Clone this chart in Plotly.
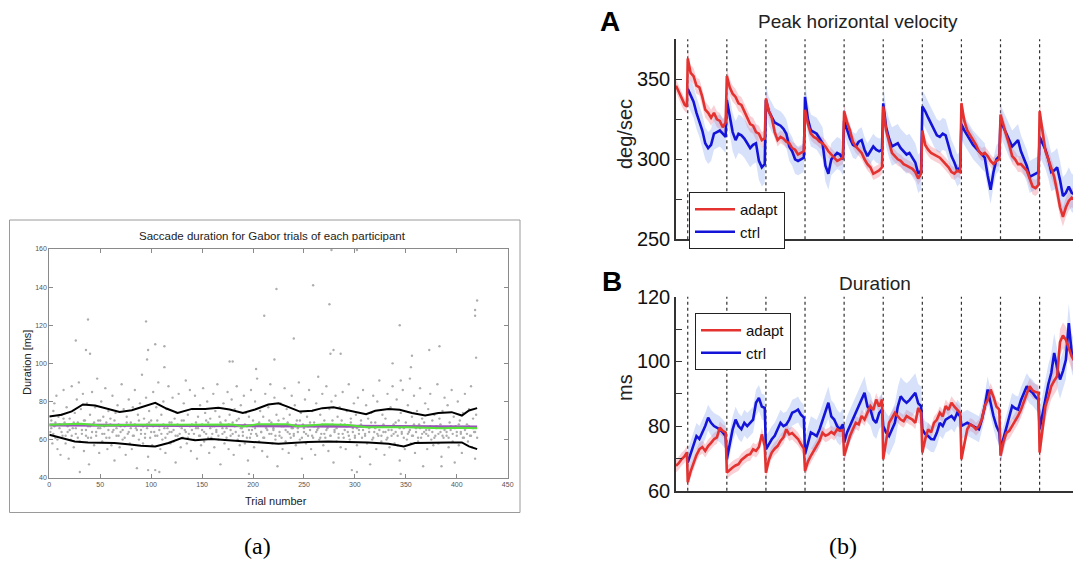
import plotly.graph_objects as go

# ---------------- (a) Saccade duration for Gabor trials ----------------
gabor_dots = [
    (1,64),(2,70),(3,58),(4,75),(5,67),(6,61),(7,83),(8,55),(9,72),(5,79),
    (10,66),(11,52),(12,73),(13,62),(14,86),(15,69),(16,58),(17,77),(18,64),(19,50),
    (20,71),(21,60),(22,88),(23,66),(24,56),(25,74),(26,63),(27,81),(28,69),(29,90),
    (30,59),(31,76),(32,65),(33,84),(34,54),(35,70),(36,62),(37,79),(38,67),(39,47),
    (40,73),(41,61),(42,85),(43,68),(44,57),(45,77),(46,64),(47,92),(48,70),(49,53),
    (50,66),(51,80),(52,59),(53,72),(54,63),(55,87),(56,69),(57,55),(58,75),(59,61),
    (60,71),(61,57),(62,83),(63,65),(64,49),(65,74),(66,62),(67,78),(68,68),(69,56),
    (70,64),(71,89),(72,60),(73,76),(74,67),(75,52),(76,72),(77,63),(78,81),(79,58),
    (80,69),(81,55),(82,77),(83,62),(84,86),(85,66),(86,45),(87,73),(88,60),(89,79),
    (90,65),(91,94),(92,58),(93,71),(94,63),(95,82),(96,68),(97,51),(98,75),(99,61),
    (100,70),(101,57),(102,85),(103,64),(104,44),(105,77),(106,62),(107,90),(108,67),(109,55),
    (110,73),(111,60),(112,80),(113,66),(114,53),(115,76),(116,63),(117,88),(118,69),(119,58),
    (120,64),(121,82),(122,59),(123,71),(124,48),(125,74),(126,62),(127,84),(128,67),(129,56),
    (130,70),(131,61),(132,79),(133,65),(134,91),(135,58),(136,73),(137,63),(138,86),(139,54),
    (140,68),(141,76),(142,60),(143,83),(144,66),(145,50),(146,72),(147,62),(148,78),(149,57),
    (150,65),(151,87),(152,59),(153,74),(154,63),(155,80),(156,69),(157,53),(158,71),(159,61),
    (160,67),(161,84),(162,56),(163,75),(164,64),(165,89),(166,60),(167,72),(168,47),(169,68),
    (170,63),(171,79),(172,58),(173,70),(174,66),(175,85),(176,55),(177,73),(178,62),(179,81),
    (180,69),(181,52),(182,76),(183,64),(184,88),(185,60),(186,71),(187,57),(188,78),(189,66),
    (190,62),(191,83),(192,58),(193,74),(194,67),(195,49),(196,72),(197,61),(198,86),(199,65),
    (200,70),(201,56),(202,80),(203,63),(204,92),(205,68),(206,59),(207,75),(208,64),(209,54),
    (210,72),(211,61),(212,84),(213,66),(214,51),(215,77),(216,63),(217,89),(218,69),(219,58),
    (220,65),(221,82),(222,60),(223,73),(224,46),(225,70),(226,62),(227,79),(228,67),(229,55),
    (230,71),(231,87),(232,59),(233,76),(234,64),(235,53),(236,73),(237,61),(238,83),(239,66),
    (240,63),(241,78),(242,57),(243,70),(244,66),(245,90),(246,60),(247,74),(248,50),(249,68),
    (250,64),(251,81),(252,58),(253,72),(254,62),(255,86),(256,69),(257,55),(258,75),(259,61),
    (260,67),(261,52),(262,79),(263,65),(264,93),(265,60),(266,73),(267,63),(268,84),(269,57),
    (270,70),(271,61),(272,88),(273,66),(274,54),(275,76),(276,62),(277,80),(278,68),(279,48),
    (280,65),(281,83),(282,59),(283,72),(284,63),(285,77),(286,56),(287,70),(288,85),(289,61),
    (290,68),(291,55),(292,75),(293,64),(294,89),(295,60),(296,71),(297,44),(298,66),(299,79),
    (300,62),(301,73),(302,57),(303,82),(304,65),(305,51),(306,70),(307,61),(308,86),(309,67),
    (310,63),(311,78),(312,58),(313,71),(314,66),(315,47),(316,74),(317,60),(318,83),(319,64),
    (320,69),(321,55),(322,80),(323,62),(324,91),(325,67),(326,59),(327,73),(328,64),(329,52),
    (330,71),(331,60),(332,84),(333,65),(334,56),(335,77),(336,62),(337,88),(338,68),(339,58),
    (340,64),(341,81),(342,57),(343,70),(344,49),(345,74),(346,63),(347,86),(348,66),(349,55),
    (350,69),(351,60),(352,78),(353,64),(354,92),(355,58),(356,72),(357,62),(358,83),(359,53),
    (360,66),(361,75),(362,59),(363,68),(364,87),(365,61),(366,71),(367,46),(368,64),(369,79),
    (370,63),(371,55),(372,76),(373,65),(374,84),(375,60),(376,70),(377,57),(378,73),(379,62),
    (380,67),(381,89),(382,58),(383,71),(384,64),(385,51),(386,75),(387,61),(388,82),(389,66),
    (390,62),(391,78),(392,56),(393,69),(394,65),(395,86),(396,59),(397,72),(398,48),(399,67),
    (400,64),(401,80),(402,57),(403,70),(404,63),(405,53),(406,74),(407,61),(408,84),(409,66),
    (410,68),(411,59),(412,76),(413,62),(414,88),(415,56),(416,71),(417,64),(418,50),(419,73),
]
gabor_core = [
    (2,66),(4,63),(6,69),(8,60),(10,68),(12,64),(14,71),(16,62),(18,67),(20,65),(22,62),(24,69),
    (26,66),(28,61),(30,68),(32,63),(34,70),(36,65),(38,61),(40,67),(42,64),(44,69),(46,62),(48,66),
    (50,70),(52,63),(54,67),(56,61),(58,65),(60,68),(62,64),(64,70),(66,66),(68,62),(70,67),(72,65),
    (74,61),(76,69),(78,64),(80,66),(82,62),(84,68),(86,65),(88,70),(90,63),(92,67),(94,61),(96,66),
    (98,69),(100,64),(102,67),(104,62),(106,70),(108,65),(110,63),(112,68),(114,61),(116,66),(118,64),
    (120,69),(122,65),(124,62),(126,68),(128,63),(130,66),(132,70),(134,64),(136,61),(138,67),(140,65),
    (142,63),(144,69),(146,66),(148,62),(150,68),(152,64),(154,70),(156,61),(158,66),(160,63),(162,67),
    (164,65),(166,62),(168,69),(170,66),(172,64),(174,61),(176,68),(178,65),(180,63),(182,67),(184,70),
    (186,62),(188,66),(190,64),(192,68),(194,61),(196,65),(198,63),(200,67),(202,66),(204,62),(206,69),
    (208,64),(210,61),(212,67),(214,65),(216,70),(218,63),(220,66),(222,62),(224,68),(226,64),(228,61),
    (230,67),(232,65),(234,69),(236,63),(238,66),(240,62),(242,68),(244,64),(246,70),(248,61),(250,66),
    (252,63),(254,67),(256,65),(258,62),(260,69),(262,64),(264,66),(266,61),(268,68),(270,63),(272,65),
    (274,67),(276,62),(278,70),(280,64),(282,66),(284,61),(286,68),(288,63),(290,65),(292,67),(294,62),
    (296,69),(298,64),(300,61),(302,66),(304,63),(306,68),(308,65),(310,62),(312,67),(314,64),(316,69),
    (318,61),(320,66),(322,63),(324,65),(326,62),(328,68),(330,64),(332,61),(334,67),(336,65),(338,63),
    (340,69),(342,62),(344,66),(346,64),(348,61),(350,67),(352,63),(354,65),(356,62),(358,68),(360,64),
    (362,61),(364,66),(366,63),(368,69),(370,65),(372,62),(374,67),(376,64),(378,61),(380,66),(382,63),
    (384,68),(386,62),(388,65),(390,64),(392,61),(394,67),(396,63),(398,66),(400,62),(402,68),(404,64),
    (406,61),(408,65),(410,63),(412,67),(414,62),(416,66),(418,64),(420,61),
]
gabor_outliers = [
    (26,112),(36,107),(38,123),(40,105),(95,122),(96,102),(97,107),(104,110),(113,109),(113,98),
    (177,101),(180,101),(203,97),(211,125),(221,102),(223,139),(240,113),(259,141),(275,131),
    (276,105),(277,159.5),(279,107),(286,105),(302,159.5),(337,100),(344,120),(345,91),(355,98),
    (356,104),(373,107),(383,109),(418,128),(418,125),(419,103),(420,133),
    (30,43),(97,44),(108,43),(196,42),(302,43),(345,42),(385,46),
]
upper_trial = [0,12,22,33,45,58,69,81,94,104,115,126,140,153,166,177,190,202,215,225,235,246,258,268,279,290,300,311,320,333,344,356,369,382,395,405,412,420]
upper_ms = [72.1,73.0,74.8,78.4,77.9,76.1,74.5,75.4,77.5,79.3,76.3,74.0,76.1,76.1,76.7,75.8,74.0,75.8,78.4,79.0,77.0,74.7,75.1,76.5,77.0,75.6,74.7,73.3,75.1,76.0,75.6,73.9,72.6,73.9,74.4,72.6,75.3,76.5]
lower_trial = [0,12,25,38,51,64,77,90,104,117,130,143,159,172,189,202,215,225,235,254,274,294,313,333,348,359,376,392,405,412,420]
lower_ms = [62.5,60.8,59.0,58.5,58.5,58.2,57.6,56.8,56.4,58.2,60.8,59.6,60.3,59.9,59.0,58.7,58.2,57.8,58.2,58.7,59.0,58.7,58.5,57.8,56.4,58.2,58.5,58.5,58.5,56.4,55.0]
green_trial = [0,31,51,84,117,150,180,190,204,234,244,271,294,311,352,385,402,420]
green_ms = [67.8,68.3,67.4,67.8,67.8,67.9,67.9,66.9,68.0,68.0,67.0,68.0,67.6,66.5,66.5,65.9,66.2,65.9]
purple_trial = [0,100,200,300,420]
purple_ms = [67.7,67.6,67.3,67.0,66.6]

# ---------------- (b) adapt / ctrl block data ----------------
# first adapt list is the pre-adaptation baseline segment
vel_adapt = [
    [346,343,339,336,334,333],
    [363,354,352,346,345,339,331,329,326,329,325,324,320,323],
    [352,345,341,339,335,334,330,325,322,321,317,316,312,313],
    [338,330,326,317,312,314,313,311,310,307,306,303,304,305],
    [331,322,316,314,313,311,310,308,305,303,301,299,300,301],
    [330,323,318,311,308,306,304,300,297,295,291,292,293,295],
    [333,318,310,304,302,300,299,297,296,295,294,292,288,291],
    [318,309,306,304,303,302,301,299,297,295,292,291,293,292],
    [335,324,318,315,312,309,305,303,304,302,299,297,299,300],
    [328,321,315,309,302,300,297,297,295,293,288,283,282,284],
    [330,318,305,300,294,289,280,270,264,270,274,276,275,272],
]
vel_ctrl = [
    [344,340,336,329,324,318,310,307,309,316,317,318,316,314],
    [337,328,317,312,316,315,313,310,307,309,310,299,295,297],
    [337,330,326,323,322,321,319,316,308,305,300,299,300,301],
    [339,325,318,317,316,313,310,296,291,300,302,304,303,300],
    [324,318,313,309,308,311,312,306,302,305,308,306,305,306],
    [335,320,313,308,309,310,307,305,303,304,301,298,291,293],
    [333,330,326,322,318,315,314,316,315,309,302,298,293,295],
    [322,318,315,312,309,307,305,303,301,290,281,292,300,302],
    [324,320,316,311,308,310,312,305,300,296,289,290,291,292],
    [314,310,306,300,292,293,295,287,277,279,283,279,278,277],
]
dur_adapt = [
    [67.7,68.5,69.7,70.5,71.8],
    [62.6,66.0,68.5,71.0,72.8,73.5,72.3,73.8,74.8,75.9,76.5,79.5,78.5,78.0],
    [65.6,66.5,67.2,67.8,68.2,69.5,70.3,71.0,71.3,72.8,72.3,73.5,77.4,73.8],
    [65.6,69.5,71.8,73.0,73.8,75.4,76.5,79.0,77.4,77.8,76.9,76.0,74.4,73.0],
    [66.1,69.0,70.8,72.5,73.8,75.5,77.9,77.0,77.4,78.2,77.5,79.0,78.5,78.8],
    [70.8,74.0,76.9,79.0,81.0,80.5,83.1,82.0,84.0,86.2,85.0,88.2,86.0,88.2],
    [69.7,76.0,81.0,82.5,84.1,83.0,82.0,81.5,83.1,82.5,82.0,81.0,85.6,84.0],
    [71.8,76.0,79.0,78.0,81.0,82.0,84.1,83.0,86.2,85.0,87.2,86.0,85.1,84.0],
    [69.7,75.0,79.0,80.5,80.0,79.0,80.0,82.0,86.2,88.0,91.3,89.0,86.0,85.1],
    [70.8,75.0,77.9,78.5,80.0,81.5,83.1,85.0,87.2,90.0,92.3,91.0,90.5,90.3],
    [71.8,80.0,86.2,89.0,92.3,94.0,95.4,106.0,108.0,106.7,104.0,101.5,100.0,99.0],
]
dur_ctrl = [
    [68.7,71.5,73.8,76.9,76.0,78.0,80.0,82.6,81.0,80.0,79.5,79.0,78.0,76.9],
    [69.7,75.0,79.0,82.0,80.0,79.0,81.0,80.0,81.0,82.0,87.2,88.7,86.0,85.6],
    [72.8,74.5,75.9,77.0,79.0,81.0,80.0,80.5,82.0,84.1,84.5,85.1,83.5,82.6],
    [71.3,75.0,78.0,77.5,76.9,79.0,82.0,85.0,87.2,83.0,82.0,80.0,79.0,80.5],
    [74.9,78.0,80.0,82.0,84.1,86.0,88.0,90.3,86.0,85.1,82.0,81.0,84.0,85.1],
    [80.0,78.0,76.9,79.0,81.0,86.0,89.2,88.0,87.2,88.0,89.2,90.3,87.0,86.2],
    [79.0,77.5,76.9,76.0,75.9,78.0,81.0,80.0,82.0,82.5,83.1,82.0,84.1,83.0],
    [80.0,80.5,81.0,80.5,80.0,79.5,79.0,82.0,86.0,91.3,87.0,83.1,80.0,78.0],
    [72.8,76.0,80.0,83.0,86.2,85.5,85.1,88.0,90.0,92.3,91.0,90.3,89.0,88.2],
    [79.0,84.0,88.2,93.0,96.4,102.6,98.0,94.4,97.0,100.5,111.8,102.6,100.0,98.0],
]
vel_adapt_sem = [4, 5, 5, 4, 4, 4, 4, 4, 4, 5, 6]
vel_ctrl_sem = [10, 12, 9, 10, 8, 12, 10, 9, 10, 12]
dur_adapt_sem = [2, 2, 2, 2, 2, 2, 2, 2, 2, 2.5, 4]
dur_ctrl_sem = [4, 4, 4, 5, 5, 6, 4, 4, 4, 6]
block_starts = list(range(10))

RED = "#e3322f"
BLUE = "#1414d8"
RED_BAND = "rgba(238,120,135,0.35)"
BLUE_BAND = "rgba(140,170,240,0.35)"
W, H = 1073, 562


def px(x):
    return x / W


def py(y):
    return 1 - y / H


def blocks_to_xy(blocks, sems, first_block):
    xs, ys, ss = [], [], []
    for j, vals in enumerate(blocks):
        b = first_block + j
        n = len(vals)
        if b < 0:
            xs += [-0.3 + 0.28 * i / (n - 1) for i in range(n)]
        else:
            xs += [b + 0.97 * i / (n - 1) for i in range(n)]
        ys += vals
        ss += [sems[j]] * n
    return xs, ys, ss


fig = go.Figure()

# ---- panel (a)
all_dots = gabor_dots + gabor_core + gabor_outliers
fig.add_trace(go.Scatter(x=[p[0] for p in all_dots], y=[p[1] for p in all_dots],
                         mode="markers", marker=dict(size=2.4, color="#adadad"),
                         xaxis="x", yaxis="y", showlegend=False, hoverinfo="skip"))
fig.add_trace(go.Scatter(x=purple_trial, y=purple_ms, mode="lines",
                         line=dict(color="#9a55b8", width=3), xaxis="x", yaxis="y", showlegend=False))
fig.add_trace(go.Scatter(x=green_trial, y=green_ms, mode="lines",
                         line=dict(color="#57e33a", width=2), xaxis="x", yaxis="y", showlegend=False))
for tx, ty in [(upper_trial, upper_ms), (lower_trial, lower_ms)]:
    fig.add_trace(go.Scatter(x=tx, y=ty, mode="lines", line=dict(color="black", width=2),
                             xaxis="x", yaxis="y", showlegend=False))

# ---- panels A and B
panels = [
    ("x2", "y2", "legend", vel_adapt, vel_adapt_sem, vel_ctrl, vel_ctrl_sem),
    ("x3", "y3", "legend2", dur_adapt, dur_adapt_sem, dur_ctrl, dur_ctrl_sem),
]
for xa, ya, leg, adapt, asem, ctrl, csem in panels:
    series = [
        ("adapt", adapt, asem, -1, RED, RED_BAND),
        ("ctrl", ctrl, csem, 0, BLUE, BLUE_BAND),
    ]
    for name, blocks, sems, fb, col, band in series:
        xs, ys, ss = blocks_to_xy(blocks, sems, fb)
        up = [v + s for v, s in zip(ys, ss)]
        lo = [v - s for v, s in zip(ys, ss)]
        fig.add_trace(go.Scatter(x=xs + xs[::-1], y=up + lo[::-1], fill="toself",
                                 fillcolor=band, line=dict(width=0), mode="lines",
                                 xaxis=xa, yaxis=ya, showlegend=False, hoverinfo="skip"))
    for name, blocks, sems, fb, col, band in series[::-1]:
        xs, ys, ss = blocks_to_xy(blocks, sems, fb)
        fig.add_trace(go.Scatter(x=xs, y=ys, mode="lines", name=name,
                                 line=dict(color=col, width=2.6),
                                 xaxis=xa, yaxis=ya, legend=leg, showlegend=True))

shapes = []
for xa, ya in [("x2", "y2"), ("x3", "y3")]:
    for b in block_starts:
        shapes.append(dict(type="line", xref=xa, yref=ya + " domain", x0=b, x1=b, y0=0, y1=1,
                           line=dict(color="#303030", width=1.2, dash="dot"), layer="below"))
shapes.append(dict(type="rect", xref="paper", yref="paper", x0=px(9.5), x1=px(520),
                   y0=py(512.5), y1=py(220), line=dict(color="#9a9a9a", width=1)))

sans = "Liberation Sans, Arial, sans-serif"
ax_a = dict(showline=True, mirror="ticks", linecolor="#8a8a8a", linewidth=1, ticks="inside",
            ticklen=4, tickcolor="#8a8a8a", tickfont=dict(size=7, color="#555", family=sans),
            showgrid=False, zeroline=False, automargin=False)

fig.update_layout(
    width=W, height=H, margin=dict(l=0, r=0, t=0, b=0),
    paper_bgcolor="white", plot_bgcolor="white",
    font=dict(family=sans, color="#111"),
    shapes=shapes,
    xaxis=dict(ax_a, domain=[px(49.3), px(507.7)], range=[0, 450], dtick=50, anchor="y"),
    yaxis=dict(ax_a, domain=[py(477.7), py(249)], range=[40, 160], dtick=20, anchor="x"),
    xaxis2=dict(domain=[px(676), 1], range=[-0.3, 9.854], anchor="y2", showline=True,
                linecolor="#333", linewidth=1.5, showticklabels=False, ticks="",
                showgrid=False, zeroline=False, automargin=False),
    yaxis2=dict(domain=[py(239.3), py(39.3)], range=[250, 375], anchor="x2", showline=True,
                linecolor="#333", linewidth=1.5, ticks="inside", ticklen=6, tickcolor="#333",
                tickvals=[250, 275, 300, 325, 350, 375], ticktext=["250", "", "300", "", "350", ""],
                tickfont=dict(size=20, color="#111"), showgrid=False, zeroline=False, automargin=False),
    xaxis3=dict(domain=[px(676), 1], range=[-0.3, 9.854], anchor="y3", showline=True,
                linecolor="#333", linewidth=1.5, showticklabels=False, ticks="",
                showgrid=False, zeroline=False, automargin=False),
    yaxis3=dict(domain=[py(490.7), py(296.7)], range=[60, 120], anchor="x3", showline=True,
                linecolor="#333", linewidth=1.5, ticks="inside", ticklen=6, tickcolor="#333",
                tickvals=[60, 70, 80, 90, 100, 110, 120], ticktext=["60", "", "80", "", "100", "", "120"],
                tickfont=dict(size=20, color="#111"), showgrid=False, zeroline=False, automargin=False),
)
fig.update_layout(
    legend=dict(x=px(689), y=py(192), xanchor="left", yanchor="top", bgcolor="white",
                bordercolor="#222", borderwidth=1, font=dict(size=15, color="#111"),
                tracegroupgap=0, itemwidth=40, traceorder="reversed"),
    legend2=dict(x=px(695), y=py(313), xanchor="left", yanchor="top", bgcolor="white",
                 bordercolor="#222", borderwidth=1, font=dict(size=15, color="#111"),
                 tracegroupgap=0, itemwidth=40, traceorder="reversed"),
)

serif = "Liberation Serif, DejaVu Serif, serif"
ann = [
    dict(text="Saccade duration for Gabor trials of each participant", x=px(272), y=py(236),
         font=dict(size=11.5, color="#222")),
    dict(text="Duration [ms]", x=px(27), y=py(363), textangle=-90, font=dict(size=11, color="#222")),
    dict(text="Trial number", x=px(276), y=py(501), font=dict(size=11, color="#222")),
    dict(text="<b>A</b>", x=px(610), y=py(21), font=dict(size=28, color="black")),
    dict(text="<b>B</b>", x=px(612), y=py(281), font=dict(size=28, color="black")),
    dict(text="Peak horizontal velocity", x=px(858), y=py(22), font=dict(size=19, color="#222")),
    dict(text="Duration", x=px(875), y=py(283), font=dict(size=19, color="#222")),
    dict(text="deg/sec", x=px(625), y=py(134), textangle=-90, font=dict(size=20, color="#222")),
    dict(text="ms", x=px(625), y=py(388), textangle=-90, font=dict(size=20, color="#222")),
    dict(text="(a)", x=px(257.5), y=py(546), font=dict(size=24, color="black", family=serif)),
    dict(text="(b)", x=px(842.5), y=py(546), font=dict(size=24, color="black", family=serif)),
]
for a in ann:
    a.update(xref="paper", yref="paper", showarrow=False, xanchor="center", yanchor="middle")
fig.update_layout(annotations=ann)

fig.write_html("out.html", config={"displayModeBar": False},
               post_script="document.body.style.margin='0';document.body.style.overflow='hidden';")
